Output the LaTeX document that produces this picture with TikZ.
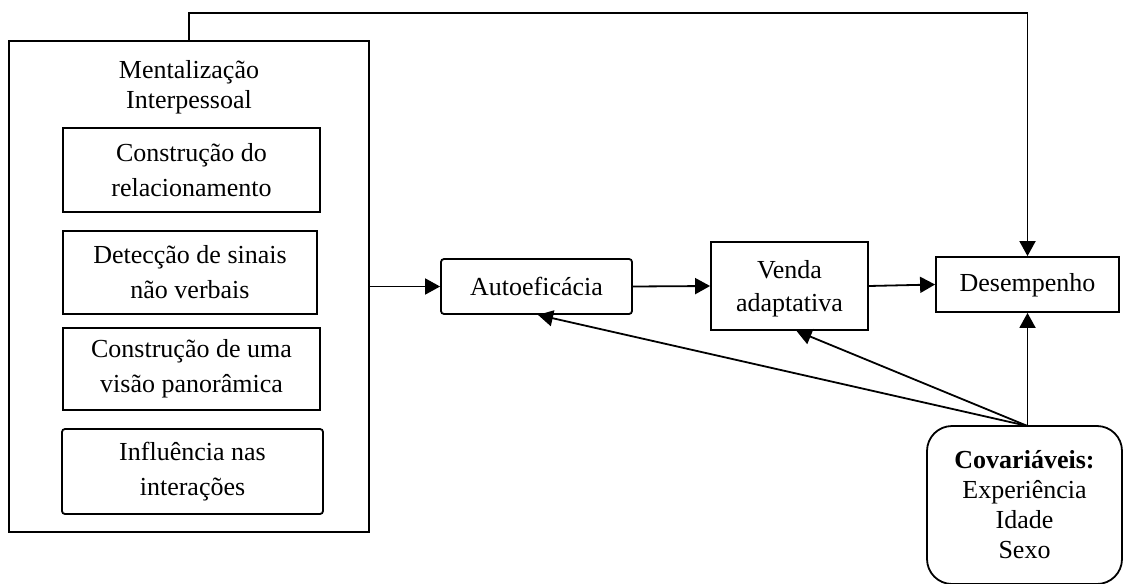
\documentclass[tikz,border=0pt]{standalone}
\usepackage{fontspec}
\setmainfont{Liberation Serif}
\usetikzlibrary{arrows.meta,calc}
\begin{document}
\begin{tikzpicture}[x=1pt,y=-1pt,
  line width=1.8pt,
  box/.style={draw, rectangle, inner sep=0pt, align=center, font=\fontsize{26}{35}\selectfont},
  arr/.style={-{Triangle[length=15pt,width=16pt]}},
]
\useasboundingbox (0,0) rectangle (1123,583);
% outer box
\node[draw, rectangle, inner sep=0pt, minimum width=360pt, minimum height=491pt] (outer) at (189,286.5) {};
\node[align=center, inner sep=0pt, font=\fontsize{26}{30}\selectfont] (title) at (189,87) {Mentalização\\Interpessoal};
\node[box, minimum width=257pt, minimum height=84pt] (b1) at (191.5,170) {Construção do\\relacionamento};
\node[box, minimum width=254pt, minimum height=83pt] (b2) at (190,272.5) {Detecção de sinais\\não verbais};
\node[box, minimum width=257pt, minimum height=82pt] (b3) at (191.5,369) {Construção de uma\\visão panorâmica};
\node[box, rounded corners=3pt, minimum width=261pt, minimum height=85pt] (b4) at (192.5,471.5) {Influência nas\\interações};
% main constructs
\node[box, rounded corners=3pt, minimum width=191pt, minimum height=55pt] (auto) at (536.5,286.5) {Autoeficácia};
\node[box, font=\fontsize{26}{33}\selectfont, minimum width=157pt, minimum height=88pt] (venda) at (789.5,286) {\strut Venda\\adaptativa};
\node[box, minimum width=183pt, minimum height=55pt] (desemp) at (1027.5,284.5) {\strut Desempenho};
\node[box, rounded corners=25pt, font=\fontsize{26}{30}\selectfont, minimum width=195pt, minimum height=158pt] (cov) at (1024.5,505) {\textbf{Covariáveis:}\\Experiência\\Idade\\Sexo};
% connectors
\coordinate (topright) at (1027.5,13);
\coordinate (covtop) at (1027.5,426);
\draw[arr] (outer.north) |- (topright) -- (desemp.north);
\draw[arr] (outer.east) -- (auto.west);
\draw[arr] (auto.east) -- (venda.west);
\draw[arr] (venda.east) -- (desemp.west);
\draw[arr] (covtop) -- (desemp.south);
\draw[arr] (covtop) -- ([xshift=7pt]venda.south);
\draw[arr] (covtop) -- ([xshift=1.5pt]auto.south);
\end{tikzpicture}
\end{document}
